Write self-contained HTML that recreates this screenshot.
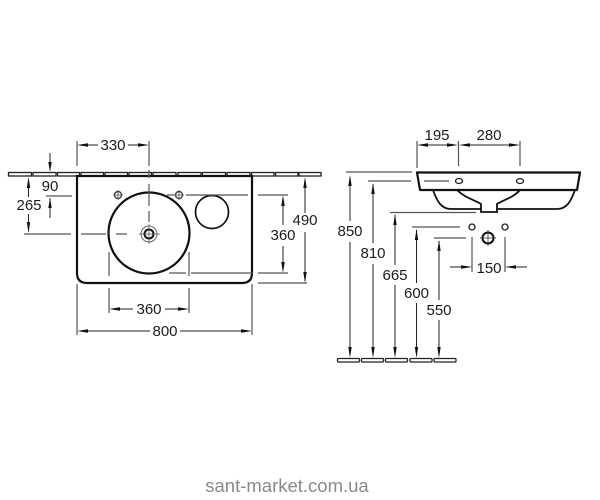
<!DOCTYPE html>
<html><head><meta charset="utf-8"><style>
html,body{margin:0;padding:0;background:#fff;width:600px;height:500px;overflow:hidden}
svg{display:block;filter:blur(.3px)}
text{font-family:"Liberation Sans",sans-serif;font-size:15px;fill:#1c1c1c;text-anchor:middle}
.t{stroke:#222;stroke-width:1;fill:none}
.g{stroke:#555;stroke-width:1.2;fill:none}
.h{stroke:#111;stroke-width:2.2;fill:none}
.s{stroke:#222;stroke-width:1.3;fill:#fff}
.a{fill:#111;stroke:none}
</style></head><body>
<svg width="600" height="500" viewBox="0 0 600 500" xmlns="http://www.w3.org/2000/svg">
<!-- wall strip -->
<g class="s">
<rect x="8.5" y="172.5" width="23" height="3.5"/><rect x="33" y="172.5" width="23" height="3.5"/><rect x="57.5" y="172.5" width="22" height="3.5"/><rect x="81" y="172.5" width="22.5" height="3.5"/><rect x="105" y="172.5" width="22.5" height="3.5"/><rect x="129" y="172.5" width="22.5" height="3.5"/><rect x="153" y="172.5" width="23" height="3.5"/><rect x="178" y="172.5" width="23" height="3.5"/><rect x="202.5" y="172.5" width="23" height="3.5"/><rect x="227" y="172.5" width="23" height="3.5"/><rect x="251.5" y="172.5" width="22.5" height="3.5"/><rect x="275.5" y="172.5" width="22.5" height="3.5"/><rect x="299" y="172.5" width="22" height="3.5"/>
</g>
<!-- basin plan -->
<path class="h" d="M77 176V273Q77 283 87 283H242Q252 283 252 273V176H77Z"/>
<circle class="h" cx="149" cy="233" r="40.5"/>
<circle cx="212" cy="212" r="16.5" fill="none" stroke="#111" stroke-width="1.7"/>
<circle cx="149" cy="234" r="4.5" fill="none" stroke="#111" stroke-width="2"/>
<circle cx="149" cy="234" r="8" fill="none" stroke="#666" stroke-width="1"/>
<path stroke="#555" stroke-width=".7" fill="none" d="M149 224V244M139 234H160"/>
<circle cx="118" cy="195" r="3.5" fill="none" stroke="#444" stroke-width="1.4"/>
<path stroke="#555" stroke-width=".8" fill="none" d="M118 190V200M113 195H123"/>
<circle cx="179" cy="195" r="3.5" fill="none" stroke="#444" stroke-width="1.4"/>
<path stroke="#555" stroke-width=".8" fill="none" d="M179 190V200M174 195H184"/>
<!-- plan dims -->
<g class="g">
<path d="M77 141V166M149 141V166M149 170V178M149 184V206M149 211V222"/>
<path d="M24 234H71M81 234H106M116 234H127"/>
<path d="M46 196H72"/>
<path d="M167 195H174M186 195H248M258 195H288"/>
<path d="M169 273H186M191 273H253M258 273H288"/>
<path d="M258 283H307"/>
<path d="M109 252V276M189 252V276M109 288V313M189 288V313"/>
<path d="M77 284V335M252 284V335"/>
</g>
<g class="t">
<path d="M80 145H98M128 145H147"/>
<path d="M50 153V170M50 198V218"/>
<path d="M28.5 180V197M28.5 214V231"/>
<path d="M283 198V225M283 246V270"/>
<path d="M305 180V213M305 232V281"/>
<path d="M112 309H133M165 309H186"/>
<path d="M80 331H150M180 331H249"/>
</g>
<g class="a">
<path d="M77 145L88 143.300V146.700ZM149 145L138 143.300V146.700Z"/>
<path d="M50 172L48.300 162H51.700ZM50 198L48.300 208H51.700Z"/>
<path d="M28.5 177L26.800 188H30.200ZM28.5 233L26.800 222H30.200Z"/>
<path d="M283 195L281.300 206H284.700ZM283 273L281.300 262H284.700Z"/>
<path d="M305 177L303.300 188H306.700ZM305 283L303.300 272H306.700Z"/>
<path d="M109 309L120 307.300V310.700ZM189 309L178 307.300V310.700Z"/>
<path d="M77 331L88 329.300V332.700ZM252 331L241 329.300V332.700Z"/>
</g>
<text x="113" y="150">330</text>
<text x="50" y="191">90</text>
<text x="29" y="210">265</text>
<text x="283" y="240">360</text>
<text x="305" y="225">490</text>
<text x="149" y="314">360</text>
<text x="165" y="336">800</text>
<!-- side view -->
<path class="h" d="M417 172.500H580L577 190H420Z" stroke-linejoin="round"/>
<path fill="none" stroke="#111" stroke-width="1.8" d="M433 190C437 201 441 209 451 209H481M575 190C571 201 567 209 557 209H497"/>
<path fill="none" stroke="#111" stroke-width="1.8" d="M457 190C465 198 475 200 481 204V212H497V204C503 200 513 198 520 190"/>
<path class="g" d="M424 181H449"/>
<ellipse cx="459" cy="181" rx="3.500" ry="2.500" fill="none" stroke="#222" stroke-width="1.300"/>
<ellipse cx="520" cy="181" rx="3.500" ry="2.500" fill="none" stroke="#222" stroke-width="1.300"/>
<circle cx="472" cy="227" r="3" fill="none" stroke="#222" stroke-width="1.300"/>
<circle cx="505" cy="227" r="3" fill="none" stroke="#222" stroke-width="1.300"/>
<circle cx="488" cy="238" r="5.500" fill="none" stroke="#111" stroke-width="2"/>
<path stroke="#333" stroke-width=".8" fill="none" d="M488 230V246M480 238H496"/>
<g class="g">
<path d="M417 141V168M458.500 141V166M520 141V166"/>
<path d="M346 172H412M368 181H411M390 212.500H476M412 227H460M434 238H466"/>
<path d="M472 237V272M505 237V272"/>
</g>
<g class="t">
<path d="M420 145H455M462 145H517"/>
<path d="M450 267H470M507 267H527"/>
<path d="M350 178V221M350 242V355"/>
<path d="M373 184V243M373 264V355"/>
<path d="M395 215V265M395 285V355"/>
<path d="M416.500 230V283M416.500 303V355"/>
<path d="M439 241V300M439 320V355"/>
</g>
<g class="a">
<path d="M417 145L428 143.300V146.700ZM458 145L447 143.300V146.700ZM459 145L470 143.300V146.700ZM520 145L509 143.300V146.700Z"/>
<path d="M472 267L461 265.300V268.700ZM505 267L516 265.300V268.700Z"/>
<path d="M350 175L348.300 186H351.700ZM350 358L348.300 347H351.700Z"/>
<path d="M373 183L371.300 194H374.700ZM373 358L371.300 347H374.700Z"/>
<path d="M395 214L393.300 225H396.700ZM395 358L393.300 347H396.700Z"/>
<path d="M416.500 229L414.800 240H418.200ZM416.500 358L414.800 347H418.200Z"/>
<path d="M439 240L437.300 251H440.700ZM439 358L437.300 347H440.700Z"/>
</g>
<g class="s">
<rect x="337.500" y="358.500" width="22" height="3.500" rx="1"/><rect x="361.500" y="358.500" width="22" height="3.500" rx="1"/><rect x="385.500" y="358.500" width="22" height="3.500" rx="1"/><rect x="410" y="358.500" width="22" height="3.500" rx="1"/><rect x="434" y="358.500" width="22" height="3.500" rx="1"/>
</g>
<text x="437" y="140">195</text>
<text x="489" y="140">280</text>
<text x="350" y="236">850</text>
<text x="373" y="258">810</text>
<text x="395" y="280">665</text>
<text x="416.500" y="298">600</text>
<text x="439" y="315">550</text>
<text x="489" y="273">150</text>
<text x="287" y="492" style="font-size:18.500px;fill:#8a8a8a">sant-market.com.ua</text>
</svg>
</body></html>
